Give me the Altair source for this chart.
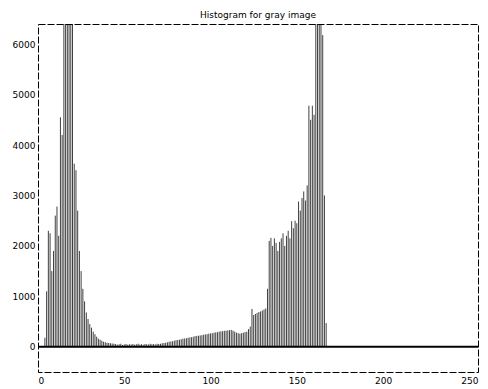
import altair as alt
import pandas as pd

# gray levels 0..255 and histogram counts
counts_0_44 = [0, 0, 0, 0, 180, 1100, 2300, 2250, 1500, 1900,
               2600, 2780, 2200, 4550, 4200, 9000, 11000, 8000, 10000, 12000,
               7500, 3630, 3500, 2700, 1900, 1500, 1150, 900, 680, 550,
               450, 380, 300, 250, 200, 160, 140, 120, 100, 90,
               80, 75, 70, 65, 60]
counts_45_70 = [55, 40, 50, 60, 35, 45, 55, 40, 50, 45,
                55, 40, 50, 60, 45, 50, 40, 55, 50, 45,
                60, 50, 55, 45, 60, 55]
counts_71_123 = [60, 70, 75, 80, 90, 100, 105, 110, 120, 130,
                 135, 140, 150, 160, 165, 170, 180, 185, 190, 200,
                 210, 215, 220, 225, 230, 240, 245, 250, 260, 265,
                 270, 280, 285, 290, 300, 305, 310, 315, 320, 325,
                 330, 335, 320, 300, 280, 270, 260, 270, 280, 290,
                 300, 350, 400]
counts_124_167 = [750, 630, 650, 670, 690, 700, 720, 740, 760, 1150,
                  2100, 2160, 2000, 2150, 2060, 1900, 2080, 2150, 2250, 2000,
                  2200, 2300, 2150, 2490, 2350, 2500, 2450, 2880, 2700, 2950,
                  3080, 2900, 3200, 4780, 4500, 4780, 4600, 9000, 11000, 8000,
                  10000, 6180, 3000, 470]
counts_168_255 = [0] * 88

counts = counts_0_44 + counts_45_70 + counts_71_123 + counts_124_167 + counts_168_255
levels = list(range(256))

x_ticks = [0, 50, 100, 150, 200, 250]
y_ticks = [0, 1000, 2000, 3000, 4000, 5000, 6000]

df = pd.DataFrame({"g": levels, "n": counts})

x_axis = alt.Axis(values=x_ticks, title=None, grid=False, domain=False, ticks=False,
                  labelFontSize=9, labelColor="black", labelPadding=4, format="d",
                  labelFont="DejaVu Sans")
y_axis = alt.Axis(values=y_ticks, title=None, grid=False, domain=False, ticks=False,
                  labelFontSize=9, labelColor="black", labelPadding=3, format="d",
                  labelFont="DejaVu Sans")

base = alt.Chart(df)

stems = base.transform_calculate(zero="0").mark_rule(
    color="black", strokeWidth=0.8, opacity=0.95, clip=True
).encode(
    x=alt.X("g:Q", scale=alt.Scale(domain=[0, 255], nice=False, zero=False), axis=x_axis),
    y=alt.Y("n:Q", scale=alt.Scale(domain=[-500, 6400], nice=False), axis=y_axis),
    y2="zero:Q",
)

zero_line = alt.Chart(pd.DataFrame({"z": [0]})).mark_rule(
    color="black", strokeWidth=2
).encode(y=alt.Y("z:Q"))

chart = alt.layer(stems, zero_line).properties(
    width=440,
    height=348,
    title=alt.Title("Histogram for gray image", fontSize=9, fontWeight="normal",
                    font="DejaVu Sans", color="black", offset=4),
    autosize=alt.AutoSizeParams(type="none"),
    padding={"left": 30, "top": 16, "right": 2, "bottom": 14},
).configure_view(
    stroke="black", strokeDash=[7, 2], strokeWidth=1
)

chart.save("out.html", embed_options={"renderer": "svg", "actions": False})
